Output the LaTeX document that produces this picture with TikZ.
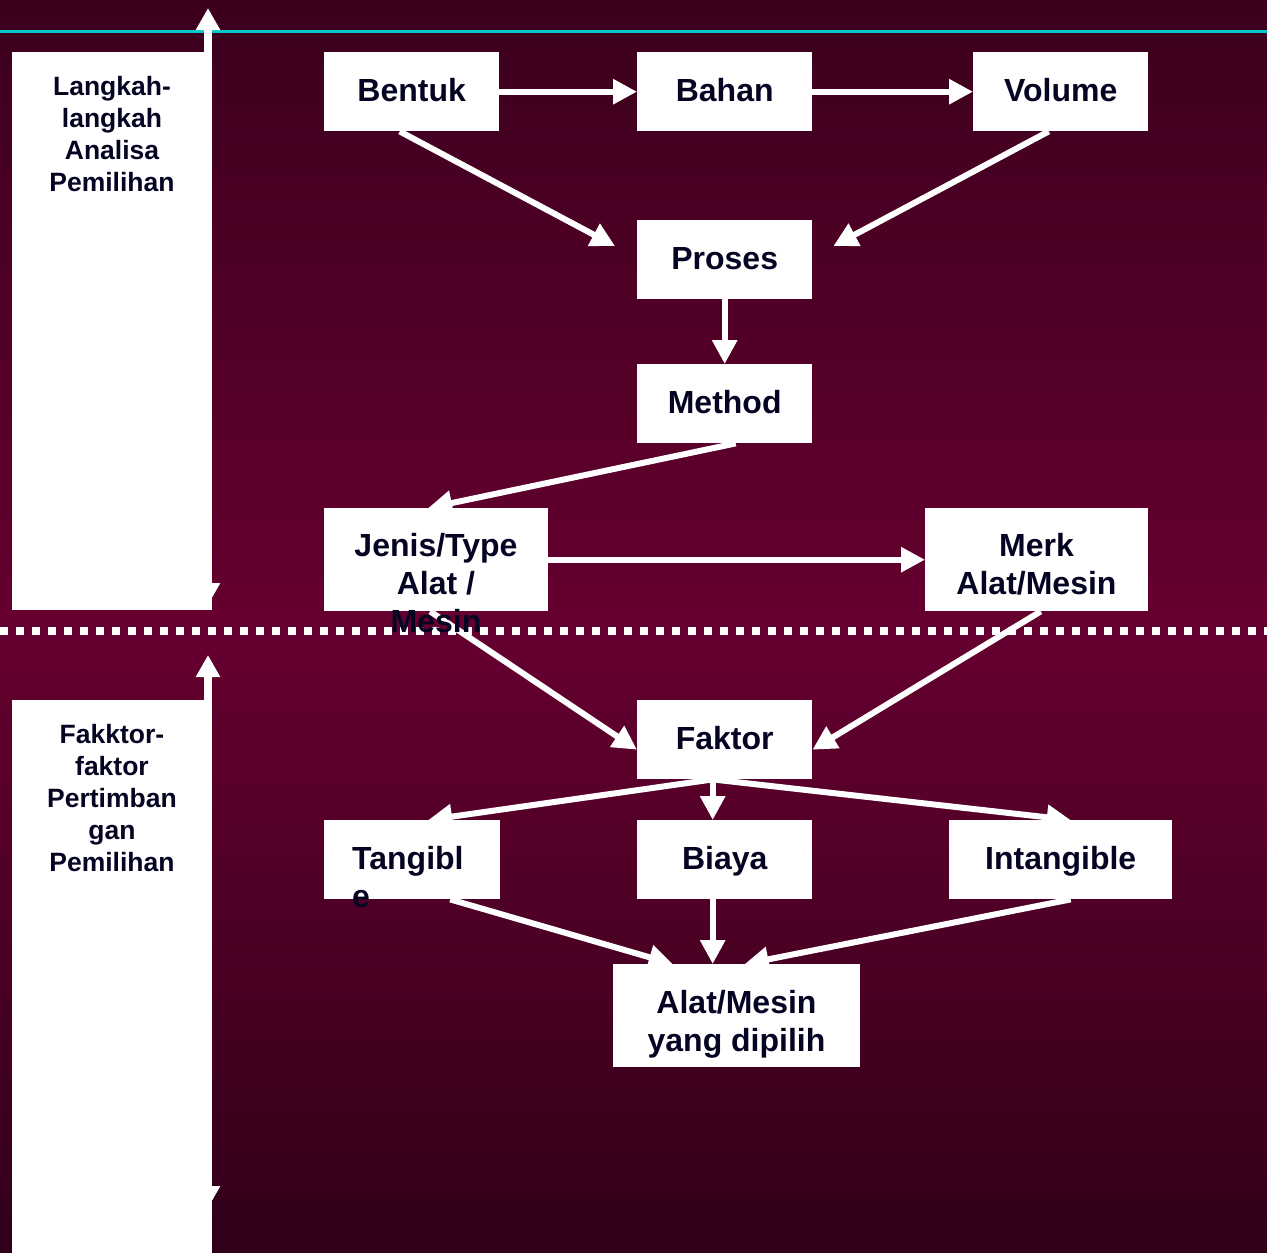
\documentclass[tikz,border=0pt]{standalone}
\usepackage{fontspec}
\setmainfont{Liberation Sans}
\usetikzlibrary{arrows.meta}

\definecolor{bgtop}{RGB}{60,0,30}
\definecolor{bgmid}{RGB}{102,0,48}
\definecolor{bgbot}{RGB}{48,0,25}
\definecolor{ink}{RGB}{5,5,35}
\definecolor{rulecyan}{RGB}{0,200,200}

\tikzset{
  box/.style={fill=white,inner sep=0pt,anchor=north west,
    minimum width=175pt,minimum height=79pt,text=ink,align=center,
    text height=26pt,text depth=6pt,
    font=\bfseries\fontsize{32}{38}\selectfont},
  boxtxt/.style={inner sep=0pt,text=ink,
    font=\bfseries\fontsize{32}{38}\selectfont},
  paneltxt/.style={inner sep=0pt,text=ink,align=center,
    font=\bfseries\fontsize{26.5}{32}\selectfont},
  flow/.style={draw=white,line width=6pt,-{Triangle[length=24pt,width=24pt]}},
  sidearrow/.style={draw=white,line width=8pt,
    {Triangle[length=22pt,width=23pt]}-{Triangle[length=22pt,width=23pt]}},
}

\begin{document}
\begin{tikzpicture}[x=1pt,y=-1pt]
\useasboundingbox (0,0) rectangle (1267,1253);
% ================= background =================
\foreach \i in {0,...,125}{
  \pgfmathsetmacro\yy{\i*10}
  \pgfmathtruncatemacro\pa{min(100,\i*100/62.6)}
  \pgfmathtruncatemacro\pb{max(0,100-(\i-62.6)*100/63.4)}
  \ifnum\i<63 \colorlet{strip}{bgmid!\pa!bgtop}\else \colorlet{strip}{bgmid!\pb!bgbot}\fi
  \fill[strip] (0,\yy) rectangle ++(1267,10.6);
}
\draw[rulecyan,line width=3pt] (0,31) -- (1267,31);
\draw[white,line width=8pt,dash pattern=on 8pt off 8pt] (0,631) -- (1267,631);
% ================= left panels =================
\draw[sidearrow] (208,605) -- (208,8);
\draw[sidearrow] (208,1208) -- (208,655);
\fill[white] (12,52) rectangle (212,610);
\fill[white] (12,700) rectangle (212,1253);
\node[paneltxt] (langkah) at (112,134) {Langkah-\\langkah\\Analisa\\Pemilihan};
\node[paneltxt] (faktorpanel) at (112,798) {Fakktor-\\faktor\\Pertimban\\gan\\Pemilihan};
% ================= boxes =================
\node[box] (bentuk) at (324,52) {Bentuk};
\node[box] (bahan) at (637,52) {Bahan};
\node[box] (volume) at (973,52) {Volume};
\node[box] (proses) at (637,220) {Proses};
\node[box] (method) at (637,364) {Method};
\node[box,minimum width=224pt,minimum height=103pt] (jenis) at (324,508) {};
\node[box,minimum width=223pt,minimum height=103pt] (merk) at (925,508) {};
\node[box] (faktor) at (637,700) {Faktor};
\node[box,minimum width=176pt] (tangible) at (324,820) {};
\node[box] (biaya) at (637,820) {Biaya};
\node[box,minimum width=223pt] (intangible) at (949,820) {Intangible};
\node[box,minimum width=247pt,minimum height=103pt] (pilih) at (613,964) {};
% ================= connectors =================
\draw[flow] (bentuk.east) -- (bahan.west);
\draw[flow] (bahan.east) -- (volume.west);
\draw[flow] ([xshift=-12pt]bentuk.south) -- ([xshift=-22pt,yshift=-26pt]proses.north west);
\draw[flow] ([xshift=-12pt]volume.south) -- ([xshift=21pt,yshift=-26pt]proses.north east);
\draw[flow] (proses.south) -- (method.north);
\draw[flow] ([xshift=11pt]method.south) -- ([xshift=-8pt]jenis.north);
\draw[flow] (jenis.east) -- (merk.west);
\draw[flow] ([xshift=-6pt]jenis.south) -- ([yshift=-10pt]faktor.west);
\draw[flow] ([xshift=4pt]merk.south) -- ([yshift=-10pt]faktor.east);
\draw[flow] ([xshift=-12pt]faktor.south) -- ([xshift=16pt]tangible.north);
\draw[flow] ([xshift=-12pt]faktor.south) -- ([xshift=-12pt]biaya.north);
\draw[flow] ([xshift=-12pt]faktor.south) -- ([xshift=10pt]intangible.north);
\draw[flow] ([xshift=38pt]tangible.south) -- ([xshift=-64pt]pilih.north);
\draw[flow] ([xshift=-12pt]biaya.south) -- ([xshift=-24pt]pilih.north);
\draw[flow] ([xshift=10pt]intangible.south) -- ([xshift=8pt]pilih.north);
% texts of the taller boxes, some running out of them
\node[boxtxt,align=center] (jenistxt) at (436,583) {Jenis/Type\\Alat /\\Mesin};
\node[boxtxt,align=center] (merktxt) at (1036.5,564.5) {Merk\\Alat/Mesin};
\node[boxtxt,align=center] (pilihtxt) at (736.5,1024.5) {Alat/Mesin\\yang dipilih};
\node[boxtxt,align=left,anchor=north west] (tangibletxt) at (352,846) {Tangibl\\e};
\end{tikzpicture}
\end{document}
